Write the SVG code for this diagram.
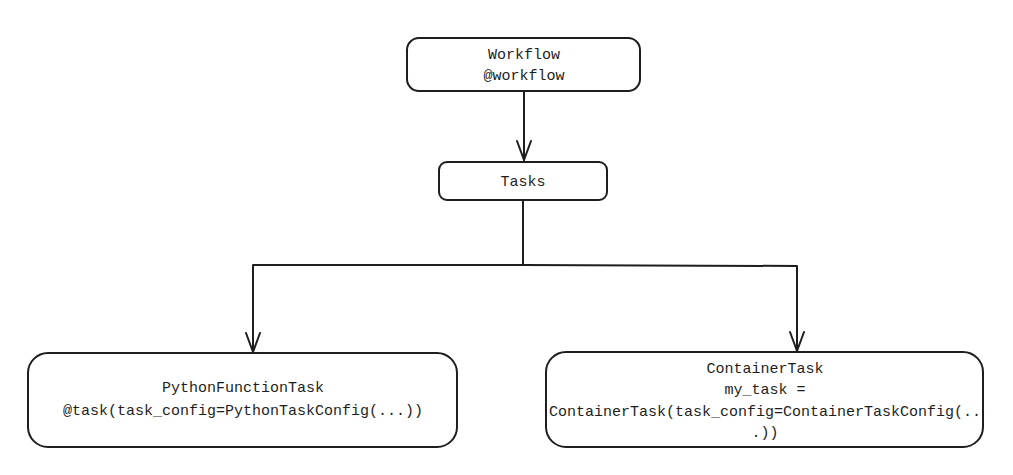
<svg xmlns="http://www.w3.org/2000/svg" width="1013" height="475" viewBox="0 0 1013 475">
  <defs>
    <style>
      .box { fill: #ffffff; stroke: #1e1e1e; stroke-width: 2; }
      .edge { fill: none; stroke: #1e1e1e; stroke-width: 2; stroke-linecap: round; stroke-linejoin: round; }
      .head { fill: none; stroke: #1e1e1e; stroke-width: 2; stroke-linecap: round; stroke-linejoin: round; }
      .lbl { font-family: "Liberation Mono", "DejaVu Sans Mono", monospace; font-size: 15px; fill: #1e1e1e; text-anchor: middle; }
    </style>
  </defs>
  <rect width="1013" height="475" fill="#ffffff"/>

  <g id="connectors">
    <path class="edge" d="M524 91 L524 160"/>
    <path class="head" d="M517 141 L524 160 L531 141"/>
    <path class="edge" d="M523 200 L523 265 L253 265 L253 352"/>
    <path class="head" d="M246 333 L253 352 L260 333"/>
    <path class="edge" d="M523 265 L797 266 L797 351"/>
    <path class="head" d="M790 332 L797 351 L804 332"/>
  </g>

  <g id="node-workflow">
    <rect class="box" x="407" y="38" width="233" height="53" rx="12"/>
    <text class="lbl" x="524" y="59">Workflow</text>
    <text class="lbl" x="524" y="80">@workflow</text>
  </g>

  <g id="node-tasks">
    <rect class="box" x="439" y="162" width="168" height="38" rx="8"/>
    <text class="lbl" x="523" y="186">Tasks</text>
  </g>

  <g id="node-python">
    <rect class="box" x="28" y="353" width="429" height="94" rx="20"/>
    <text class="lbl" x="243" y="392">PythonFunctionTask</text>
    <text class="lbl" x="243" y="415">@task(task_config=PythonTaskConfig(...))</text>
  </g>

  <g id="node-container">
    <rect class="box" x="546" y="352" width="437" height="95" rx="20"/>
    <text class="lbl" x="765" y="373">ContainerTask</text>
    <text class="lbl" x="765" y="394">my_task =</text>
    <text class="lbl" x="765" y="416">ContainerTask(task_config=ContainerTaskConfig(..</text>
    <text class="lbl" x="765" y="437">.))</text>
  </g>
</svg>
